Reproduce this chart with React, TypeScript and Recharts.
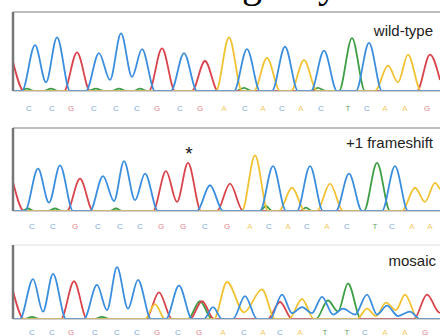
import { LineChart, Line, XAxis, YAxis, CartesianGrid, ReferenceLine } from 'recharts';

const traceColors: Record<string, string> = { A: '#f1c232', C: '#3b8ede', G: '#d9434b', T: '#3e9e45' };
const labelColors: Record<string, string> = { A: '#f0cd6a', C: '#7ea7db', G: '#e07f86', T: '#6aa56e' };

// wild-type trace, pairs of [scan position, signal]
const wtG = [13, 37, 24, 0, 64, 0, 77, 49, 90, 0, 149, 0, 162, 54, 175, 0, 192, 0, 205, 38, 218, 0, 417, 0, 430, 46, 440, 14];
const wtC = [13, 0, 22, 0, 35, 58, 46, 11, 57, 68, 70, 0, 86, 0, 99, 48, 110, 14, 121, 73, 132, 18, 142, 53, 155, 0, 171, 0, 184, 48, 197, 0, 234, 0, 247, 53, 260, 0, 272, 0, 285, 56, 298, 0, 311, 0, 324, 51, 337, 0, 356, 0, 369, 61, 382, 0, 440, 0];
const wtA = [13, 0, 216, 0, 229, 68, 242, 0, 254, 0, 267, 42, 280, 0, 291, 0, 304, 39, 317, 0, 375, 0, 388, 32, 398, 11, 408, 46, 421, 0, 440, 0];
const wtT = [13, 0, 20, 0, 27, 3, 34, 0, 44, 0, 51, 3, 58, 0, 88, 0, 96, 3, 104, 0, 112, 0, 119, 3, 126, 0, 134, 0, 140, 3, 147, 0, 236, 0, 244, 4, 252, 0, 310, 0, 318, 4, 326, 0, 339, 0, 352, 67, 365, 0, 440, 0];
const wtBases = ['C', 'C', 'G', 'C', 'C', 'C', 'G', 'C', 'G', 'A', 'C', 'A', 'C', 'A', 'C', 'T', 'C', 'A', 'A', 'G'];
const wtPos = [29, 52, 71, 94, 116, 137, 157, 180, 200, 224, 245, 263, 282, 301, 321, 348, 367, 385, 405, 427];

// +1 frameshift
const fsG = [13, 35, 24, 0, 67, 0, 80, 39, 93, 0, 153, 0, 166, 48, 177, 11, 188, 58, 201, 0, 217, 0, 230, 33, 243, 0, 440, 0];
const fsC = [13, 0, 25, 0, 38, 51, 49, 10, 60, 55, 73, 0, 90, 0, 103, 42, 114, 12, 124, 60, 135, 13, 145, 45, 158, 0, 197, 0, 210, 31, 223, 0, 260, 0, 273, 54, 286, 0, 297, 0, 310, 54, 323, 0, 336, 0, 349, 45, 362, 0, 382, 0, 395, 54, 408, 0, 440, 0];
const fsA = [13, 0, 242, 0, 255, 67, 268, 0, 279, 0, 292, 28, 305, 0, 317, 0, 330, 33, 343, 0, 402, 0, 415, 28, 425, 11, 435, 34, 440, 26];
const fsT = [13, 0, 22, 0, 28, 3, 34, 0, 48, 0, 55, 3, 62, 0, 110, 0, 116, 3, 122, 0, 260, 0, 266, 6, 272, 0, 300, 0, 306, 4, 312, 0, 364, 0, 377, 58, 390, 0, 440, 0];
const fsBases = ['C', 'C', 'G', 'C', 'C', 'C', 'G', 'G', 'C', 'G', 'A', 'C', 'A', 'C', 'A', 'C', 'T', 'C', 'A', 'A'];
const fsPos = [32, 53, 75, 98, 120, 140, 161, 183, 205, 227, 250, 269, 288, 307, 327, 347, 375, 392, 412, 430];

// mosaic
const msG = [13, 38, 24, 0, 61, 0, 74, 51, 87, 0, 146, 0, 159, 36, 172, 0, 190, 0, 202, 24, 214, 0, 268, 0, 280, 23, 292, 0, 414, 0, 427, 33, 438, 10, 440, 8];
const msC = [13, 0, 20, 0, 33, 54, 43, 10, 53, 61, 66, 0, 84, 0, 97, 46, 107, 12, 117, 70, 128, 14, 138, 53, 151, 0, 166, 0, 179, 45, 192, 0, 204, 0, 213, 16, 222, 0, 233, 0, 245, 31, 257, 0, 270, 0, 282, 33, 292, 8, 302, 16, 312, 8, 322, 30, 333, 6, 343, 14, 355, 6, 367, 33, 377, 6, 387, 18, 398, 4, 410, 10, 420, 0, 440, 0];
const msA = [13, 0, 145, 0, 155, 20, 165, 0, 214, 0, 227, 50, 244, 9, 262, 40, 275, 0, 289, 0, 302, 27, 314, 0, 357, 0, 367, 14, 376, 4, 386, 22, 396, 12, 405, 33, 418, 0, 440, 0];
const msT = [13, 0, 25, 0, 32, 3, 39, 0, 95, 0, 102, 3, 109, 0, 188, 0, 200, 24, 212, 0, 316, 0, 328, 25, 338, 10, 348, 48, 361, 0, 440, 0];
const msBases = ['C', 'C', 'G', 'C', 'C', 'C', 'G', 'C', 'G', 'A', 'C', 'A', 'C', 'A', 'T', 'T', 'C', 'A', 'A', 'G'];
const msPos = [32, 52, 71, 95, 117, 137, 157, 178, 199, 223, 244, 263, 280, 300, 325, 347, 365, 385, 405, 425];

const toPoints = (arr: number[]) => {
  const out: { x: number; v: number }[] = [];
  for (let i = 0; i < arr.length; i += 2) out.push({ x: arr[i], v: arr[i + 1] });
  return out;
};

interface PanelProps {
  top: number;
  height: number;
  marginTop: number;
  marginBottom: number;
  axisHeight: number;
  labelDy: number;
  grid: number[];
  topStroke: string;
  traces: { base: string; pts: number[] }[];
  bases: string[];
  pos: number[];
}

function Panel(p: PanelProps) {
  const tick = (props: any) => {
    const b = p.bases[props.index];
    return (
      <text x={props.x} y={props.y + p.labelDy} textAnchor="middle" fontSize={8} fontFamily="Liberation Sans" fill={labelColors[b]}>
        {b}
      </text>
    );
  };
  return (
    <div style={{ position: 'absolute', left: 0, top: p.top }}>
      <LineChart width={440} height={p.height} margin={{ top: p.marginTop, right: 0, bottom: p.marginBottom, left: 13 }}>
        <CartesianGrid vertical={false} stroke="#eeeeee" />
        <XAxis
          type="number"
          dataKey="x"
          domain={[13, 440]}
          ticks={p.pos}
          interval={0}
          tick={tick}
          tickLine={false}
          tickSize={0}
          tickMargin={0}
          height={p.axisHeight}
          stroke="#aaaaaa"
          allowDataOverflow
        />
        <YAxis domain={[0, 100]} ticks={p.grid} tick={false} tickLine={false} axisLine={false} width={0} allowDataOverflow />
        <ReferenceLine y={100} stroke={p.topStroke} strokeWidth={1.5} />
        {p.traces.map((t, i) => (
          <Line
            key={i}
            data={toPoints(t.pts)}
            dataKey="v"
            type="monotone"
            stroke={traceColors[t.base]}
            strokeWidth={1.8}
            dot={false}
            isAnimationActive={false}
          />
        ))}
        <ReferenceLine x={13} stroke="#777777" strokeWidth={2.5} />
      </LineChart>
    </div>
  );
}

export default function App() {
  return (
    <div style={{ position: 'absolute', left: 0, top: 0, width: 440, height: 336, background: '#fff', overflow: 'hidden' }}>
      <Panel
        top={0}
        height={116}
        marginTop={12}
        marginBottom={5}
        axisHeight={20}
        labelDy={20}
        grid={[0, 30, 61, 100]}
        topStroke="#aaaaaa"
        traces={[
          { base: 'T', pts: wtT },
          { base: 'G', pts: wtG },
          { base: 'A', pts: wtA },
          { base: 'C', pts: wtC },
        ]}
        bases={wtBases}
        pos={wtPos}
      />
      <Panel
        top={116}
        height={116}
        marginTop={12}
        marginBottom={1}
        axisHeight={20}
        labelDy={18}
        grid={[0, 41, 83, 100]}
        topStroke="#aaaaaa"
        traces={[
          { base: 'T', pts: fsT },
          { base: 'G', pts: fsG },
          { base: 'A', pts: fsA },
          { base: 'C', pts: fsC },
        ]}
        bases={fsBases}
        pos={fsPos}
      />
      <Panel
        top={232}
        height={104}
        marginTop={13}
        marginBottom={0}
        axisHeight={17}
        labelDy={16}
        grid={[0, 34, 68, 100]}
        topStroke="#eeeeee"
        traces={[
          { base: 'T', pts: msT },
          { base: 'G', pts: msG },
          { base: 'A', pts: msA },
          { base: 'C', pts: msC },
        ]}
        bases={msBases}
        pos={msPos}
      />
      <svg width={440} height={336} style={{ position: 'absolute', left: 0, top: 0, pointerEvents: 'none' }}>
        <text x={242} y={-3} fontSize={40} fontFamily="Liberation Serif" fill="#000">g</text>
        <text x={318} y={-3} fontSize={40} fontFamily="Liberation Serif" fill="#000">y</text>
        <text x={433} y={36} textAnchor="end" fontSize={15} fontFamily="Liberation Sans" fill="#222">wild-type</text>
        <text x={433} y={148} textAnchor="end" fontSize={15} fontFamily="Liberation Sans" fill="#222">+1 frameshift</text>
        <text x={436} y={266} textAnchor="end" fontSize={15} fontFamily="Liberation Sans" fill="#222">mosaic</text>
        <text x={189} y={160} textAnchor="middle" fontSize={19} fontFamily="Liberation Sans" fill="#111">*</text>
      </svg>
    </div>
  );
}
